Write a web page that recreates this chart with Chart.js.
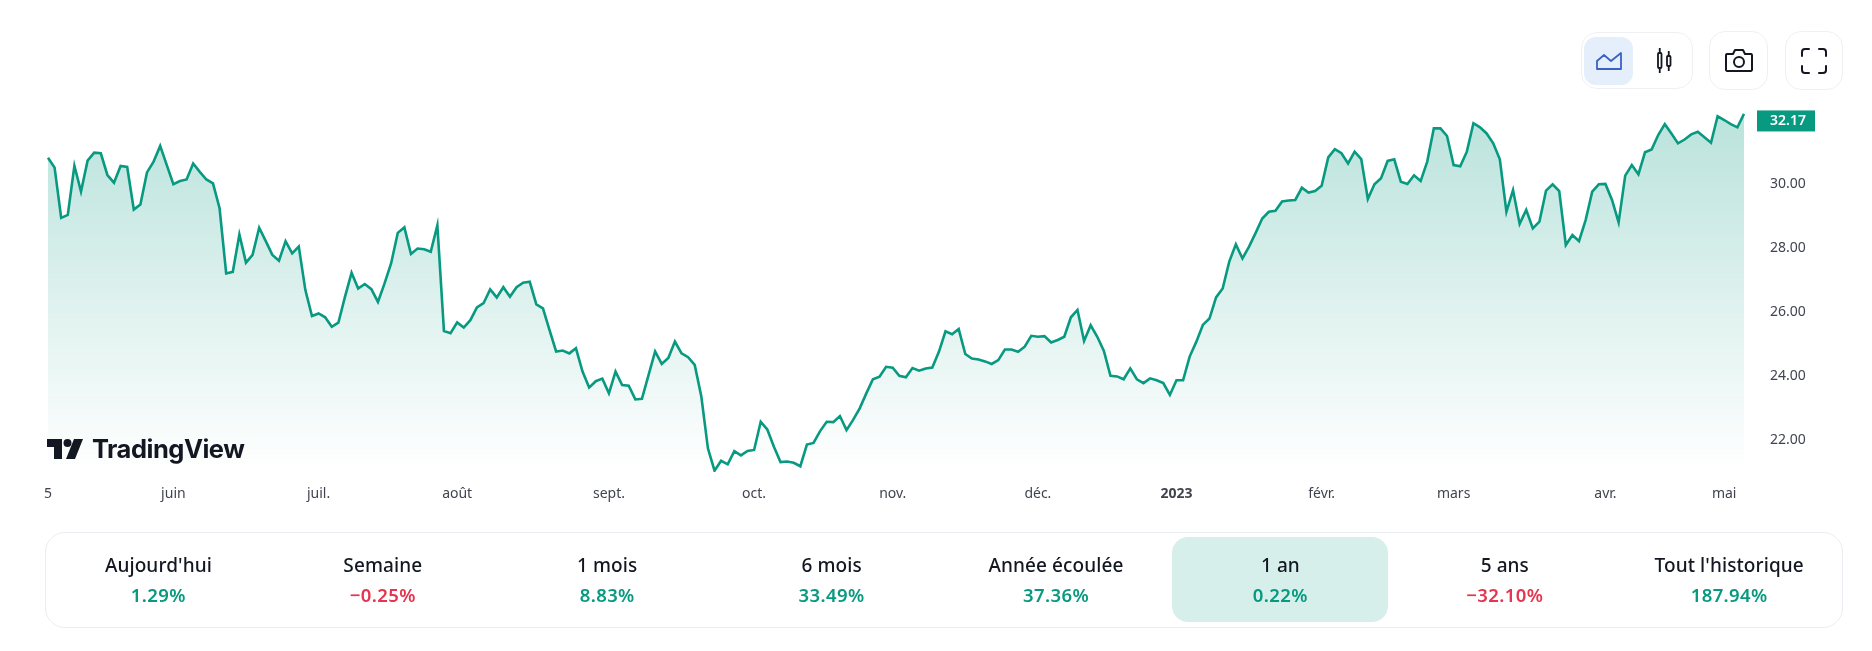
<!DOCTYPE html>
<html lang="fr">
<head>
<meta charset="utf-8">
<title>TradingView</title>
<script src="https://cdn.jsdelivr.net/npm/chart.js@4/dist/chart.umd.js"></script>
<style>
  html, body { margin: 0; padding: 0; background: #fff; }
  body { width: 1872px; height: 651px; position: relative; overflow: hidden; font-family: "Noto Sans", sans-serif; color: #131722; }
  #wrap { position: absolute; left: 0; top: 0; width: 1872px; height: 651px; }
  .box { position: absolute; box-sizing: border-box; border: 1px solid #eef0f4; border-radius: 16px; background: #fff; }
  .active { position: absolute; left: 1584px; top: 37px; width: 49px; height: 48px; border-radius: 12px; background: #e5eefb; }
  .icon { position: absolute; }
  #logo { position: absolute; left: 46px; top: 438px; display: flex; align-items: center; height: 22px; }
  #logo span { font: 700 25.5px/22px "Inter", sans-serif; letter-spacing: -0.5px; margin-left: 8px; color: #131722; }
  #stats { position: absolute; left: 45px; top: 532px; width: 1798px; height: 96px; box-sizing: border-box; border: 1px solid #e9ecf1; border-radius: 20px; }
  .cell { position: absolute; top: 4px; width: 216px; height: 85px; border-radius: 16px; text-align: center; }
  .cell.on { background: #d7efea; }
  .cell .name { position: absolute; left: 0; right: 0; top: 16px; font-size: 19px; line-height: 24px; font-weight: 500; letter-spacing: 0.1px; }
  .cell .pct { position: absolute; left: 0; right: 0; top: 46px; font-size: 18.5px; line-height: 24px; font-weight: 600; letter-spacing: 0.4px; }
</style>
</head>
<body>
<div id="wrap"><canvas id="myChart" width="1872" height="651"></canvas></div>

<div class="box" style="left:1581px;top:32px;width:112px;height:57px"></div>
<div class="active"></div>
<svg class="icon" style="left:1596px;top:48px" width="26" height="24" viewBox="0 0 26 24" fill="none" stroke="#3a62c4" stroke-width="1.8" stroke-linejoin="round">
  <path d="M1 21V13L8 7l7 6 10-8v16z"/>
</svg>
<svg class="icon" style="left:1655px;top:47px" width="20" height="28" viewBox="0 0 20 28" fill="none" stroke="#131722" stroke-width="1.8">
  <rect x="3" y="6" width="3.5" height="15" rx="1"/><path d="M4.75 1v5M4.75 21v5"/>
  <rect x="12" y="9" width="3.5" height="10" rx="1"/><path d="M13.75 4v5M13.75 19v5"/>
</svg>
<div class="box" style="left:1709px;top:31px;width:59px;height:59px"></div>
<svg class="icon" style="left:1724px;top:47px" width="30" height="28" viewBox="0 0 30 28" fill="none" stroke="#131722" stroke-width="2" stroke-linejoin="round">
  <path d="M3 7h6l2-4h8l2 4h6a1.5 1.5 0 0 1 1 1v15a1.5 1.5 0 0 1-1 1H3a1.5 1.5 0 0 1-1-1V8a1.5 1.5 0 0 1 1-1z"/>
  <circle cx="15" cy="15" r="5"/>
</svg>
<div class="box" style="left:1785px;top:31px;width:58px;height:59px"></div>
<svg class="icon" style="left:1800px;top:47px" width="28" height="28" viewBox="0 0 28 28" fill="none" stroke="#131722" stroke-width="2" stroke-linecap="round">
  <path d="M2 9V5a3 3 0 0 1 3-3h4M19 2h4a3 3 0 0 1 3 3v4M26 19v4a3 3 0 0 1-3 3h-4M9 26H5a3 3 0 0 1-3-3v-4"/>
</svg>

<div id="logo">
  <svg width="30" height="20" viewBox="0 0 36 20" fill="#131722" style="width:38px;height:20px">
    <path d="M0 0h15v20H7V8H0z"/><circle cx="20.5" cy="4" r="4"/><path d="M27 0h9l-8 20h-9z"/>
  </svg>
  <span>TradingView</span>
</div>

<div id="stats"></div>

<script>
const prices = [
  30.80,30.49,28.92,29.01,30.55,29.74,30.71,30.96,30.94,30.26,
  30.02,30.54,30.51,29.18,29.34,30.34,30.68,31.17,30.57,29.97,
  30.07,30.12,30.62,30.36,30.12,30.00,29.22,27.18,27.23,28.40,
  27.52,27.76,28.61,28.19,27.76,27.58,28.19,27.81,28.02,26.66,
  25.85,25.93,25.81,25.51,25.64,26.45,27.20,26.71,26.85,26.69,
  26.29,26.87,27.50,28.45,28.62,27.79,27.96,27.94,27.86,28.69,
  25.38,25.31,25.65,25.49,25.72,26.12,26.25,26.68,26.43,26.75,
  26.45,26.75,26.89,26.92,26.21,26.09,25.41,24.74,24.77,24.68,
  24.84,24.11,23.61,23.81,23.89,23.43,24.11,23.69,23.67,23.24,
  23.26,24.00,24.74,24.35,24.54,25.05,24.68,24.56,24.32,23.33,
  21.71,21.01,21.32,21.21,21.62,21.49,21.63,21.66,22.54,22.30,
  21.76,21.28,21.30,21.26,21.15,21.83,21.88,22.25,22.54,22.53,
  22.72,22.28,22.60,22.96,23.43,23.87,23.95,24.26,24.23,23.98,
  23.93,24.22,24.14,24.21,24.24,24.73,25.37,25.28,25.44,24.66,
  24.52,24.49,24.43,24.35,24.47,24.80,24.80,24.73,24.89,25.23,
  25.20,25.22,25.02,25.10,25.20,25.81,26.04,25.07,25.56,25.20,
  24.76,23.98,23.96,23.87,24.21,23.87,23.75,23.90,23.84,23.75,
  23.38,23.84,23.84,24.58,25.04,25.57,25.77,26.43,26.71,27.55,
  28.09,27.65,28.02,28.45,28.90,29.11,29.14,29.43,29.46,29.48,
  29.86,29.71,29.76,29.92,30.81,31.07,30.94,30.62,30.99,30.76,
  29.51,29.97,30.16,30.70,30.75,30.05,29.98,30.25,30.07,30.68,
  31.72,31.72,31.48,30.57,30.53,30.99,31.88,31.75,31.56,31.25,
  30.75,29.11,29.79,28.73,29.17,28.59,28.80,29.77,29.97,29.76,
  28.07,28.38,28.19,28.85,29.74,29.97,29.98,29.48,28.78,30.24,
  30.57,30.28,30.97,31.06,31.51,31.85,31.56,31.25,31.37,31.53,
  31.61,31.44,31.27,32.10,31.98,31.85,31.75,32.17
];
const monthLabels = ['5','juin','juil.','août','sept.','oct.','nov.','déc.','2023','févr.','mars','avr.','mai'];
const monthIndex = [0,19,41,62,85,107,128,150,171,193,213,236,254];
const yTicks = [22,24,26,28,30];
const lastPrice = 32.17;

const periodNames = ["Aujourd'hui",'Semaine','1 mois','6 mois','Année écoulée','1 an','5 ans',"Tout l'historique"];
const periodValues = ['1.29%','−0.25%','8.83%','33.49%','37.36%','0.22%','−32.10%','187.94%'];
const activePeriod = 5;

const GREEN = '#089981';
const RED = '#e5354f';
const tickFont = '"Noto Sans", sans-serif';

// bottom strip
const stats = document.getElementById('stats');
periodNames.forEach((name, i) => {
  const cell = document.createElement('div');
  cell.className = 'cell' + (i === activePeriod ? ' on' : '');
  cell.style.left = (1 + 3.4 + i * 224.4) + 'px';
  const col = periodValues[i].startsWith('−') ? RED : GREEN;
  cell.innerHTML = '<div class="name">' + name + '</div><div class="pct" style="color:' + col + '">' + periodValues[i] + '</div>';
  stats.appendChild(cell);
});

// tag with the last price on the right axis
const priceTag = {
  id: 'priceTag',
  afterDraw(chart) {
    const c = chart.ctx;
    const y = chart.scales.y.getPixelForValue(lastPrice) + 7;
    c.save();
    c.fillStyle = GREEN;
    c.fillRect(1757, y - 10.5, 58, 21);
    c.fillStyle = '#fff';
    c.font = '600 14px ' + tickFont;
    c.textAlign = 'center';
    c.textBaseline = 'middle';
    c.fillText(lastPrice.toFixed(2), 1788, y + 0.5);
    c.restore();
  }
};

new Chart(document.getElementById('myChart'), {
  type: 'line',
  data: {
    labels: prices.map((p, i) => i),
    datasets: [{
      data: prices,
      borderColor: GREEN,
      borderWidth: 2.6,
      pointRadius: 0,
      tension: 0,
      fill: 'start',
      backgroundColor(ctx) {
        const area = ctx.chart.chartArea;
        if (!area) return 'rgba(8,153,129,0.28)';
        const g = ctx.chart.ctx.createLinearGradient(0, 114, 0, area.bottom);
        g.addColorStop(0, 'rgba(8,153,129,0.28)');
        g.addColorStop(1, 'rgba(8,153,129,0)');
        return g;
      }
    }]
  },
  options: {
    responsive: false,
    animation: false,
    layout: { padding: { left: 48, right: 28, top: 100, bottom: 139 } },
    plugins: { legend: { display: false }, tooltip: { enabled: false } },
    scales: {
      x: {
        grid: { display: false, drawTicks: false },
        border: { display: false },
        afterBuildTicks(scale) { scale.ticks = monthIndex.map(i => ({ value: i })); },
        afterFit(scale) { scale.height = 40; },
        ticks: {
          autoSkip: false,
          maxRotation: 0,
          padding: 14,
          color: '#40444f',
          font: ctx => ({ family: tickFont, size: 14, weight: ctx.index === 8 ? 700 : 400 }),
          callback: (v, i) => monthLabels[i]
        }
      },
      y: {
        position: 'right',
        min: 20.97,
        max: 32.606,
        grid: { display: false, drawTicks: false },
        border: { display: false },
        afterBuildTicks(scale) { scale.ticks = yTicks.map(v => ({ value: v })); },
        afterFit(scale) { scale.width = 100; },
        ticks: {
          padding: 26,
          labelOffset: 1,
          color: '#40444f',
          font: { family: tickFont, size: 14 },
          callback: v => v.toFixed(2)
        }
      }
    }
  },
  plugins: [priceTag]
});
</script>
</body>
</html>
